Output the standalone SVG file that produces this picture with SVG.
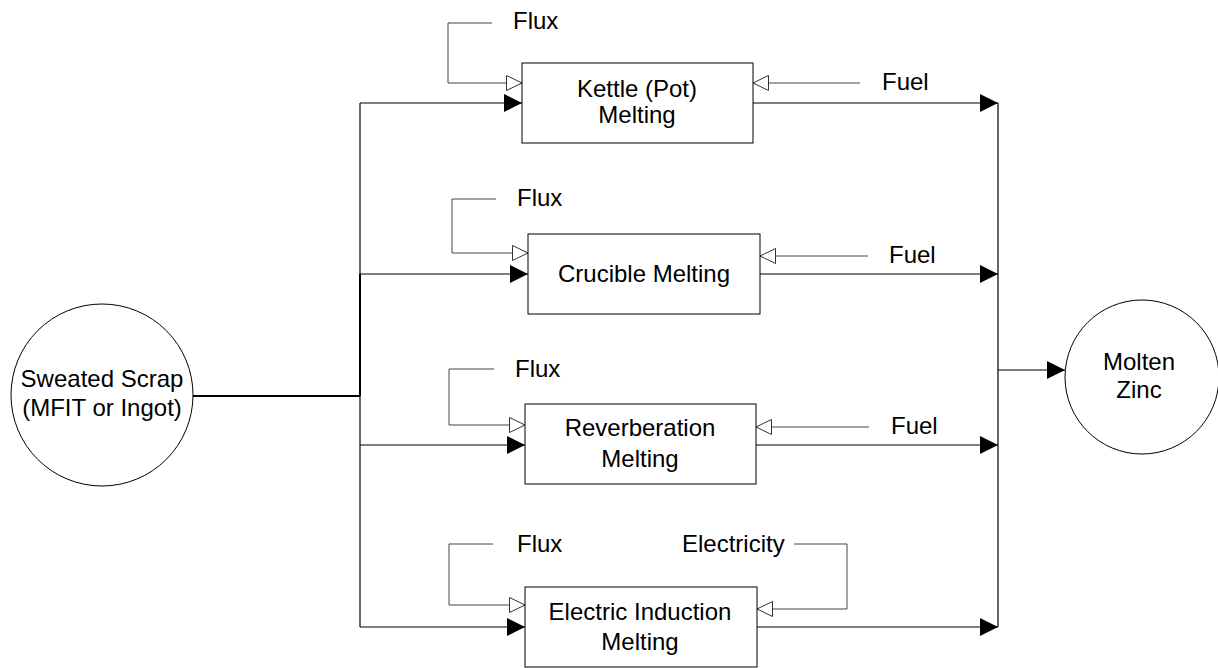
<svg xmlns="http://www.w3.org/2000/svg" width="1218" height="668" viewBox="0 0 1218 668">
<style>
text{font-family:"Liberation Sans",Arial,sans-serif;font-size:24px;fill:#000;text-anchor:middle}
.lbl{text-anchor:start}
.box{fill:#fff;stroke:#000;stroke-width:1}
.node{fill:#fff;stroke:#000;stroke-width:1}
.main{fill:none;stroke:#000;stroke-width:1.2}
.thick{fill:none;stroke:#000;stroke-width:2}
.aux{fill:none;stroke:#444;stroke-width:1}
.fa{marker-end:url(#filled)}
.oa{marker-end:url(#open)}
</style>
<defs>
<marker id="filled" markerUnits="userSpaceOnUse" markerWidth="18" markerHeight="18" refX="18" refY="9" orient="auto" overflow="visible">
<path d="M0,0 L18,9 L0,18 z" fill="#000"/>
</marker>
<marker id="open" markerUnits="userSpaceOnUse" markerWidth="16" markerHeight="16" refX="16" refY="8" orient="auto" overflow="visible">
<path d="M0.5,0.5 L16,8 L0.5,15.5 z" fill="#fff" stroke="#333" stroke-width="1"/>
</marker>
</defs>
<g id="connectors">
<!-- source trunk -->
<path class="thick" d="M192,396 H360"/>
<path class="thick" d="M360,274 V396"/>
<path class="main" d="M360,103 V274"/>
<path class="main" d="M360,396 V627"/>
<path class="main fa" d="M360,103 H522"/>
<path class="main fa" d="M360,274 H528"/>
<path class="main fa" d="M360,445 H525"/>
<path class="main fa" d="M360,627 H525"/>
<!-- flux inputs -->
<path class="aux oa" d="M492,23 H448 V83 H522"/>
<path class="aux oa" d="M496,199 H452 V253 H528"/>
<path class="aux oa" d="M494,369 H449 V425 H525"/>
<path class="aux oa" d="M493,544 H449 V605 H525"/>
<!-- fuel / electricity inputs -->
<path class="aux oa" d="M860,83 H753"/>
<path class="aux oa" d="M868,256 H760"/>
<path class="aux oa" d="M869,427 H756"/>
<path class="aux oa" d="M794,544 H847 V609 H757"/>
<!-- outputs -->
<path class="main fa" d="M753,103 H998"/>
<path class="main fa" d="M760,274 H998"/>
<path class="main fa" d="M756,445 H998"/>
<path class="main fa" d="M757,627 H998"/>
<path class="main" d="M998,103 V627"/>
<path class="main fa" d="M998,370 H1065"/>
</g>
<g id="labels">
<text class="lbl" x="513" y="29">Flux</text>
<text class="lbl" x="517" y="206">Flux</text>
<text class="lbl" x="515" y="377">Flux</text>
<text class="lbl" x="517" y="552">Flux</text>
<text class="lbl" x="682" y="552">Electricity</text>
<text class="lbl" x="882" y="90">Fuel</text>
<text class="lbl" x="889" y="263">Fuel</text>
<text class="lbl" x="891" y="434">Fuel</text>
</g>
<g id="source">
<circle class="node" cx="102" cy="395" r="91"/>
<text x="102" y="387">Sweated Scrap</text>
<text x="102" y="416">(MFIT or Ingot)</text>
</g>
<g id="kettle">
<rect class="box" x="522" y="63" width="231" height="80"/>
<text x="637" y="97">Kettle (Pot)</text>
<text x="637" y="123">Melting</text>
</g>
<g id="crucible">
<rect class="box" x="528" y="234" width="232" height="80"/>
<text x="644" y="282">Crucible Melting</text>
</g>
<g id="reverberation">
<rect class="box" x="525" y="404" width="231" height="80"/>
<text x="640" y="436">Reverberation</text>
<text x="640" y="467">Melting</text>
</g>
<g id="electric">
<rect class="box" x="525" y="587" width="232" height="80"/>
<text x="640" y="620">Electric Induction</text>
<text x="640" y="650">Melting</text>
</g>
<g id="molten">
<circle class="node" cx="1142" cy="377" r="77"/>
<text x="1139" y="370">Molten</text>
<text x="1139" y="398">Zinc</text>
</g>
</svg>
